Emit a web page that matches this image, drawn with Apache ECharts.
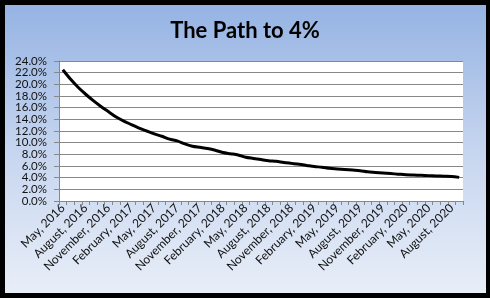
<!DOCTYPE html>
<html><head><meta charset="utf-8">
<script src="https://cdn.jsdelivr.net/npm/echarts@6/dist/echarts.min.js"></script>
<style>html,body{margin:0;padding:0;background:#000;}#c{width:490px;height:298px;}</style>
</head><body><div id="c"></div>
<script>
const title = 'The Path to 4%';
const categories = [
'May, 2016','June, 2016','July, 2016','August, 2016','September, 2016','October, 2016','November, 2016','December, 2016',
'January, 2017','February, 2017','March, 2017','April, 2017','May, 2017','June, 2017','July, 2017','August, 2017','September, 2017','October, 2017','November, 2017','December, 2017',
'January, 2018','February, 2018','March, 2018','April, 2018','May, 2018','June, 2018','July, 2018','August, 2018','September, 2018','October, 2018','November, 2018','December, 2018',
'January, 2019','February, 2019','March, 2019','April, 2019','May, 2019','June, 2019','July, 2019','August, 2019','September, 2019','October, 2019','November, 2019','December, 2019',
'January, 2020','February, 2020','March, 2020','April, 2020','May, 2020','June, 2020','July, 2020','August, 2020','September, 2020'];
const values = [
22.5,20.9,19.5,18.3,17.2,16.2,15.3,14.4,
13.7,13.1,12.5,12.0,11.5,11.1,10.6,10.3,9.8,9.4,9.2,9.0,
8.7,8.3,8.1,7.9,7.5,7.3,7.1,6.9,6.8,6.6,6.45,6.3,
6.1,5.9,5.8,5.6,5.5,5.4,5.3,5.2,5.0,4.9,4.8,4.7,
4.6,4.5,4.45,4.4,4.35,4.3,4.25,4.2,4.05];
const yMin = 0, yMax = 24, yStep = 2;

const fmt = v => v.toFixed(1) + '%';
const labelFont = {fontFamily: 'Lato', fontSize: 11.5, color: '#111', margin: 12};

const chart = echarts.init(document.getElementById('c'), null, {renderer:'canvas'});
chart.setOption({
  backgroundColor: '#000',
  animation: false,
  graphic: [{
    type: 'rect', z: -10, silent: true,
    shape: {x: 5, y: 5, width: 481, height: 288},
    style: {fill: new echarts.graphic.LinearGradient(0,0,0,1,[
      {offset:0,color:'#95b3e3'},{offset:0.5,color:'#c6d5ef'},{offset:1,color:'#e8eef8'}])}
  }, {
    type: 'rect', z: -5, silent: true,
    shape: {x: 59, y: 61, width: 404, height: 140},
    style: {fill: '#fff'}
  }],
  title: {
    text: title, left: 'center', top: 15,
    textStyle: {fontFamily: 'Lato', fontWeight: 'bold', fontSize: 22, color: '#000'}
  },
  grid: {left: 59, right: 27, top: 61, bottom: 97, containLabel: false},
  xAxis: {
    type: 'category', data: categories, boundaryGap: true,
    axisLine: {show: true, lineStyle: {color: '#888', width: 1}},
    axisTick: {show: true, interval: 0, length: 4, lineStyle: {color: '#888'}},
    axisLabel: {interval: 2, rotate: 45, fontFamily: 'Lato', fontSize: 12, color: '#111', margin: 5},
    splitLine: {show: false}
  },
  yAxis: [{
    type: 'value', min: yMin, max: yMax, interval: yStep, position: 'left',
    axisLine: {show: true, lineStyle: {color: '#888', width: 1}},
    axisTick: {show: true, length: 5, lineStyle: {color: '#888'}},
    axisLabel: Object.assign({formatter: v => (v % 4 === 0 ? '' : fmt(v)),
      showMinLabel: true, showMaxLabel: true}, labelFont),
    splitLine: {show: true, lineStyle: {color: '#888', width: 1}}
  }, {
    type: 'value', min: yMin, max: yMax, interval: yStep * 2, position: 'left', offset: 0,
    axisLine: {show: false}, axisTick: {show: false}, splitLine: {show: false},
    axisLabel: Object.assign({formatter: fmt, showMinLabel: true, showMaxLabel: true}, labelFont)
  }],
  series: [{
    type: 'line', data: values, symbol: 'none', smooth: 0.3, yAxisIndex: 0,
    lineStyle: {color: '#000', width: 3}
  }]
});
</script></body></html>
